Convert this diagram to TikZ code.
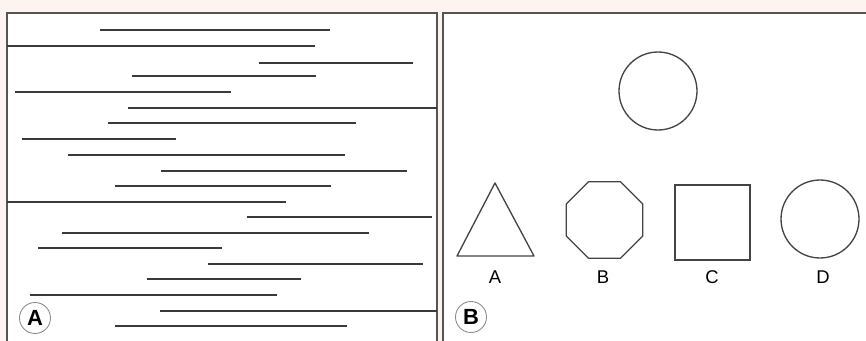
\documentclass[tikz,border=0pt]{standalone}
\usepackage{fontspec}
\setmainfont{Liberation Sans}
\usepackage{tikz}
\usetikzlibrary{shapes.geometric}
\definecolor{pagebg}{HTML}{FDF3F1}
\definecolor{frameline}{HTML}{555555}
\definecolor{textline}{HTML}{3A3A3A}
\definecolor{shapeline}{HTML}{444444}
\definecolor{tagring}{HTML}{8A8A8A}

\begin{document}
\begin{tikzpicture}[x=0.02cm, y=-0.02cm,
  frame/.style={draw=frameline, line width=0.6pt, fill=white},
  txtline/.style={draw=textline, line width=1.15pt},
  shp/.style={draw=shapeline, line width=0.75pt, inner sep=0pt},
  lbl/.style={font=\fontsize{10.5}{12}\selectfont},
  tag/.style={circle, draw=tagring, line width=0.5pt, minimum size=0.62cm,
              inner sep=0pt, font=\fontsize{12.5}{14}\selectfont\bfseries}
]
\useasboundingbox (0,0) rectangle (866,341);
\fill[pagebg] (0,0) rectangle (866,341);
\clip (0,0) rectangle (866,341);

% panel A: lines of text
\draw[frame] (7,13) rectangle (437,360);
\foreach \y/\a/\b in {30.3/100/330, 45.7/7/315, 62.7/259/413, 76/132/316,
    91.7/15/231, 107.7/128/437, 123/108/356, 138.7/22/176, 154.7/68/345,
    170.7/161/407, 185.7/115/331, 201.7/7/286, 217.3/247/432, 232.7/62/369,
    247.7/38/222, 264.3/208/423, 279.3/147/301, 295/30/277, 310.7/160/437,
    326/115/347}
  \draw[txtline] (\a,\y) -- (\b,\y);
\node[tag] (tagA) at (35,318) {A};

% panel B: shapes
\draw[frame] (443,13) rectangle (890,360);
\node[shp, circle, minimum size=1.56cm] (target) at (658,91) {};

\coordinate (triTop) at (495,183);
\coordinate (triR) at (534,256);
\coordinate (triL) at (457,256);
\draw[shp, line join=round] (triTop) -- (triR) -- (triL) -- cycle;
\node[shp, regular polygon, regular polygon sides=8, minimum size=1.66cm]
  (octB) at (604.5,220) {};
\node[shp, rectangle, minimum size=1.5cm] (sqC) at (712.5,222.5) {};
\node[shp, circle, minimum size=1.56cm] (circD) at (820,219) {};

\node[lbl] (labA) at (495,277) {A};
\node[lbl] (labB) at (603,277) {B};
\node[lbl] (labC) at (712,277) {C};
\node[lbl] (labD) at (823,277) {D};
\node[tag] (tagB) at (471,317) {B};

\end{tikzpicture}
\end{document}
